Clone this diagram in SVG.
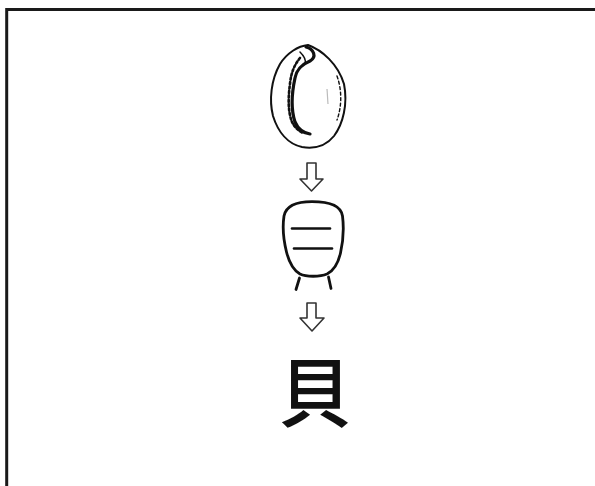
<svg xmlns="http://www.w3.org/2000/svg" width="595" height="486" viewBox="0 0 595 486">
  <style>
    .frame { fill: none; stroke: #1a1a1a; stroke-width: 3; }
    .ink { fill: none; stroke: #111; stroke-linecap: round; stroke-linejoin: round; }
    .arrow { fill: #fff; stroke: #333; stroke-width: 1.6; stroke-linejoin: round; }
    .glyph { font-family: "Noto Sans CJK TC", "Noto Sans CJK SC", sans-serif; font-weight: 500; fill: #111; }
  </style>
  <rect width="595" height="486" fill="#fff"/>
  <!-- page frame: top and left rules only -->
  <path class="frame" d="M6.7,486 V9.5 H595"/>

  <!-- cowrie shell, underside view -->
  <g id="shell">
    <path class="ink" stroke-width="2" d="M308,45 C322,50 338,64 344,84 C348,104 343,124 334,136 C326,146 314,149 302,147 C288,144 278,132 273,116 C269,100 271,80 280,64 C287,53 298,46 308,45 Z"/>
    <!-- aperture with its toothed lip -->
    <path class="ink" stroke-width="3.2" d="M306,47 C314,49 317,57 310,61 C303,64 297,68 295,78 C292,92 291,110 295,122 C298,129 303,133 310,134"/>
    <path class="ink" stroke-width="2.6" stroke-dasharray="2.2 2.2" d="M300,58 C295,64 291,72 290,84 C288,98 288,112 292,122 C295,128 299,131 303,133"/>
    <path class="ink" stroke-width="1.5" d="M300,52 C304,56 306,60 305,63"/>
    <path class="ink" stroke-width="1.4" stroke-dasharray="3 2.5" d="M337,76 C342,90 342,106 337,120"/>
    <path fill="none" stroke="#bbb" stroke-width="1.2" d="M327,89 L328,104"/>
  </g>

  <!-- oracle-bone form -->
  <g id="oracle">
    <path class="ink" stroke-width="2.8" d="M312,201.7 C330,201.7 341,206 342.5,216 C344,228 343,242 340.5,253 C338,264 333,271 327,274 C320,277 306,277 300,274 C293,270 289,262 286.5,252 C283.5,240 282.5,226 284,216 C286,206 296,201.7 312,201.7 Z"/>
    <path class="ink" stroke-width="2.6" d="M292,228.5 H330"/>
    <path class="ink" stroke-width="2.6" d="M294,248.5 H332"/>
    <path class="ink" stroke-width="2.8" d="M299.5,278 L296,289.5"/>
    <path class="ink" stroke-width="2.8" d="M328.5,277 L331,288.5"/>
  </g>

  <!-- modern character -->
  <g id="character">
    <text class="glyph" font-size="74" text-anchor="middle" transform="translate(315,421) scale(1,1.03)">貝</text>
  </g>

  <!-- transition arrows -->
  <g id="connectors">
    <path class="arrow" d="M307,163 H316 V179 H323 L311.5,191 L300,179 H307 Z"/>
    <path class="arrow" d="M307,303 H316 V318 H324 L312,331 L300,318 H307 Z"/>
  </g>
</svg>
